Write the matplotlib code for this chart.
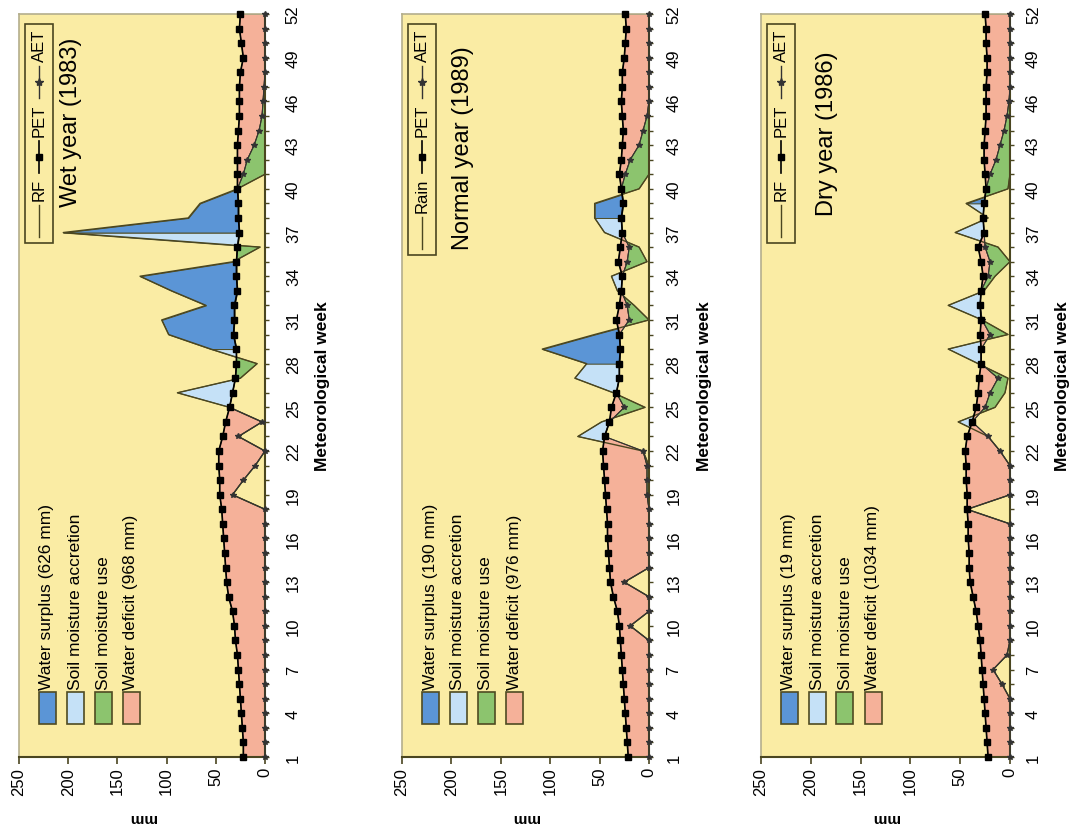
import matplotlib
matplotlib.use('Agg')
import matplotlib.pyplot as plt
from matplotlib.lines import Line2D
from matplotlib.patches import Rectangle
import numpy as np

plt.rcParams['font.family'] = ['Liberation Sans', 'DejaVu Sans']

W, H = 1073, 828

weeks = np.arange(1, 53)

# Wet year (1983)
wet_rf = [0, 0, 0, 0, 0, 0, 0, 0, 0, 0, 0, 0, 0, 0, 0, 0, 0, 0,
          33, 22, 10, 0, 27, 3, 36, 89, 25, 8, 55, 98,
          105, 60, 95, 127, 32, 5, 205, 78, 66, 28,
          0, 0, 0, 0, 0, 0, 0, 0, 0, 0, 0, 0]
wet_pet = [22, 22, 23, 24, 25, 26, 27, 28, 30, 31,
           33, 37, 39, 40, 41, 42, 43, 44, 46, 46,
           47, 47, 43, 40, 36, 33, 30, 29, 29, 32,
           31, 31, 28, 29, 29, 28, 26, 27, 27, 28,
           28, 28, 28, 27, 26, 26, 26, 25, 22, 24, 26, 25]
wet_aet = [0, 0, 0, 0, 0, 0, 0, 0, 0, 0, 0, 0, 0, 0, 0, 0, 0, 0,
           33, 22, 10, 0, 27, 3, 36, 33, 30, 29, 29, 32,
           31, 31, 28, 29, 29, 28, 26, 27, 27, 28,
           22, 18, 11, 6, 3, 2, 1, 0, 0, 0, 0, 0]
wet_surplus = [(29, 36), (37, 41)]

# Normal year (1989)
nor_rf = [0, 0, 0, 0, 0, 0, 0, 0, 0, 19, 0, 0, 25, 0, 0, 0, 0, 0, 0, 0,
          0, 6, 72, 48, 4, 36, 75, 63, 108, 55,
          0, 15, 32, 38, 2, 10, 45, 55, 55, 10,
          0, 0, 0, 0, 0, 0, 0, 0, 0, 0, 0, 0]
nor_pet = [21, 22, 23, 24, 25, 26, 27, 28, 29, 30,
           32, 36, 39, 40, 41, 42, 42, 43, 44, 45,
           46, 47, 45, 40, 38, 33, 30, 30, 29, 30,
           33, 30, 28, 27, 31, 29, 27, 28, 26, 28,
           30, 28, 27, 26, 27, 28, 27, 27, 25, 24, 23, 24]
nor_aet = [0, 0, 0, 0, 0, 0, 0, 0, 0, 19, 0, 0, 25, 0, 0, 0, 0, 0, 2, 2,
           2, 6, 45, 40, 25, 33, 30, 30, 29, 30,
           20, 22, 28, 27, 22, 20, 27, 28, 26, 28,
           24, 19, 10, 6, 2, 0, 0, 0, 0, 0, 0, 0]
nor_surplus = [(28, 31), (38, 40)]

# Dry year (1986)
dry_rf = [0, 0, 0, 0, 0, 8, 17, 3, 0, 0, 0, 0, 0, 0, 0, 0, 0, 43, 0, 0,
          0, 10, 22, 52, 15, 5, 2, 32, 62, 2,
          28, 62, 26, 15, 0, 12, 55, 22, 44, 2,
          0, 0, 0, 0, 0, 0, 0, 0, 0, 0, 0, 0]
dry_pet = [22, 23, 24, 25, 26, 27, 28, 29, 30, 32,
           34, 37, 40, 41, 41, 42, 42, 43, 43, 44,
           44, 45, 43, 38, 34, 32, 31, 29, 29, 30,
           29, 30, 29, 27, 29, 32, 26, 27, 26, 24,
           25, 26, 26, 25, 24, 24, 24, 23, 23, 24, 24, 25]
dry_aet = [0, 0, 0, 0, 0, 8, 17, 3, 0, 0, 0, 0, 0, 0, 0, 0, 0, 43, 0, 0,
           0, 10, 22, 38, 25, 20, 12, 29, 29, 20,
           28, 30, 29, 22, 20, 25, 26, 27, 26, 24,
           20, 14, 10, 6, 3, 1, 0, 0, 0, 0, 0, 0]
dry_surplus = [(39, 40)]

titles = ['Wet year (1983)', 'Normal year (1989)', 'Dry year (1986)']
rain_names = ['RF', 'Rain', 'RF']
surplus_mm = [626, 190, 19]
deficit_mm = [968, 976, 1034]

BG = '#FAECA4'
SURPLUS = '#5B95D6'
ACCRETION = '#C5E1F7'
USE = '#8CC46E'
DEFICIT = '#F5B199'
EDGE = '#4F4B22'
AXIS = '#4A4620'
FRAME = '#B4AE8C'

panels = [(wet_rf, wet_pet, wet_aet, wet_surplus),
          (nor_rf, nor_pet, nor_aet, nor_surplus),
          (dry_rf, dry_pet, dry_aet, dry_surplus)]
panel_px = [(19, 265), (402, 649), (761, 1010)]
top_px, bot_px = 15, 758
week_pad = [12, 9.5, 8.5]
wlabel_off = [57, 56, 52]
title_pos = [(52, 122), (61, 148), (66, 134)]

fig = plt.figure(figsize=(W / 100, H / 100), dpi=100)
renderer = fig.canvas.get_renderer()


def fp(x, y):
    return x / W, 1 - y / H


def line_legend(x0, names):
    cx = x0 + 20
    ytop = top_px + 10
    y = ytop + 5
    styles = [dict(color='#333', lw=1.0, marker='*', ms=6, mfc='#333', mec='#333'),
              dict(color='black', lw=1.2, marker='s', ms=4.5, mfc='black', mec='black'),
              dict(color=AXIS, lw=1.0, marker=None)]
    for name, st in zip(names[::-1], styles):
        t = fig.text(*fp(cx, y), name, rotation=90, ha='center', va='top', fontsize=12)
        y += t.get_window_extent(renderer).height + 5
        xs = [cx / W] * 3
        ys = [fp(0, y)[1], fp(0, y + 16)[1], fp(0, y + 32)[1]]
        fig.add_artist(Line2D(xs, ys, markevery=[1], **st))
        y += 32 + 5
    y += 1
    fig.add_artist(Rectangle(fp(x0 + 6, y), 28 / W, (y - ytop) / H, fc='none',
                             ec=AXIS, lw=1.2))


def patch_legend(x0, labels, colors):
    for i, (lab, c) in enumerate(zip(labels, colors)):
        cx = x0 + 28 + 28 * i
        fig.add_artist(Rectangle(fp(cx - 8.5, bot_px - 33), 17 / W, 32 / H,
                                 fc=c, ec=EDGE, lw=1.2))
        fig.text(*fp(cx, bot_px - 68), lab, rotation=90, ha='center', va='bottom',
                 fontsize=12.5)


for i, (rf, pet, aet, surplus) in enumerate(panels):
    x0, x1 = panel_px[i]
    ax = fig.add_axes([x0 / W, 1 - bot_px / H, (x1 - x0) / W, (bot_px - top_px) / H])
    ax.set_facecolor(BG)
    rf, pet, aet = np.array(rf, float), np.array(pet, float), np.array(aet, float)
    wk = weeks.astype(float)

    ax.fill_betweenx(wk, aet, pet, where=pet > aet, interpolate=True,
                     fc=DEFICIT, ec=EDGE, lw=0.7, zorder=1)
    ax.fill_betweenx(wk, rf, aet, where=aet > rf, interpolate=True,
                     fc=USE, ec=EDGE, lw=0.7, zorder=1)
    edges = sorted({1, 52} | {w for s in surplus for w in s})
    for a, b in zip(edges[:-1], edges[1:]):
        m = (wk >= a) & (wk <= b)
        dark = any(s0 <= a and b <= s1 for s0, s1 in surplus)
        ax.fill_betweenx(wk[m], pet[m], rf[m], where=rf[m] > pet[m], interpolate=True,
                         fc=SURPLUS if dark else ACCRETION, ec=EDGE, lw=0.7, zorder=1)

    ax.plot(rf, wk, color=AXIS, lw=1.0, zorder=3, clip_on=False)
    ax.plot(aet, wk, color='#333', lw=0.8, marker='*', ms=4, zorder=4, clip_on=False)
    ax.plot(pet, wk, color='black', lw=1.2, marker='s', ms=4.5, zorder=5, clip_on=False)

    ax.set_xlim(250, 0)
    ax.set_ylim(1, 52)
    ax.set_xticks(range(0, 251, 50))
    ax.set_yticks(range(1, 53, 3))
    ax.set_yticks(range(1, 53), minor=True)
    ax.yaxis.tick_right()
    ax.tick_params(axis='x', labelrotation=90, length=5, width=1.2, color=AXIS,
                   pad=2, labelsize=12)
    ax.tick_params(axis='y', which='both', length=3, width=1, color=AXIS,
                   direction='out', pad=week_pad[i], labelsize=12)
    for lab in ax.get_xticklabels() + ax.get_yticklabels():
        lab.set_fontfamily(['Liberation Sans Narrow', 'Liberation Sans'])
    for lab in ax.get_yticklabels():
        lab.set_rotation(90)
        lab.set_va('center')
        lab.set_ha('left')
    for side in ('bottom', 'right'):
        ax.spines[side].set_color(AXIS)
        ax.spines[side].set_linewidth(1.5)
    for side in ('top', 'left'):
        ax.spines[side].set_color(FRAME)
        ax.spines[side].set_linewidth(1.2)

    w = x1 - x0
    hgt = bot_px - top_px
    ax.text(1 + wlabel_off[i] / w, 0.5, 'Meteorological week', transform=ax.transAxes,
            rotation=90, ha='center', va='center', fontsize=12.5, fontweight='bold')
    ax.text(0.5, -60 / hgt, 'mm', transform=ax.transAxes, rotation=180,
            ha='center', va='center', fontsize=11, fontweight='bold')
    tx, ty = title_pos[i]
    fig.text(*fp(x0 + tx, ty), titles[i], rotation=90, ha='center', va='center',
             fontsize=17)

    line_legend(x0, [rain_names[i], 'PET', 'AET'])
    patch_legend(x0, [f'Water surplus ({surplus_mm[i]} mm)', 'Soil moisture accretion',
                      'Soil moisture use', f'Water deficit ({deficit_mm[i]} mm)'],
                 [SURPLUS, ACCRETION, USE, DEFICIT])

fig.savefig('out.png', dpi=100)
